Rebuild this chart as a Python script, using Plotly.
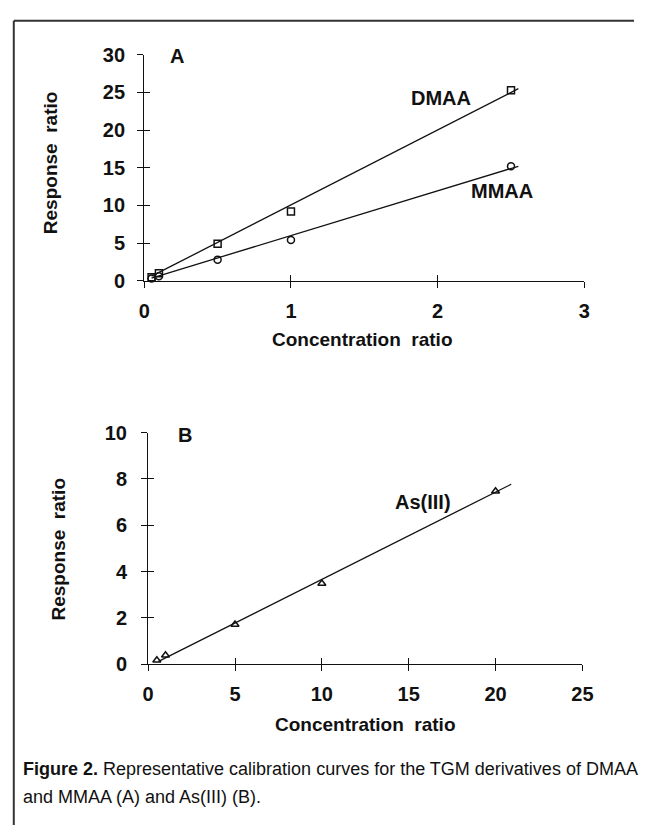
import plotly.graph_objects as go

W, H = 645, 836

# ---------- Data ----------
conc_A = [0.05, 0.1, 0.5, 1.0, 2.5]
dmaa_resp = [0.45, 1.0, 4.9, 9.2, 25.3]
mmaa_resp = [0.3, 0.6, 2.8, 5.4, 15.2]
dmaa_fit_x = [0.05, 2.55]
dmaa_fit_y = [0.6, 25.5]
mmaa_fit_x = [0.05, 2.55]
mmaa_fit_y = [0.35, 15.2]

conc_B = [0.5, 1.0, 5.0, 10.0, 20.0]
as3_resp = [0.18, 0.39, 1.72, 3.49, 7.47]
as3_fit_x = [0.6, 20.9]
as3_fit_y = [0.13, 7.77]

xticks_A = [0, 1, 2, 3]
yticks_A = [0, 5, 10, 15, 20, 25, 30]
xticks_B = [0, 5, 10, 15, 20, 25]
yticks_B = [0, 2, 4, 6, 8, 10]

# ---------- helpers ----------
def px_x(p):
    return p / W

def px_y(p):
    return 1 - p / H

FONT = "Liberation Sans"
BLACK = "#111111"

fig = go.Figure()

mk_line = dict(color=BLACK, width=1.5)

# Panel A
fig.add_trace(go.Scatter(x=dmaa_fit_x, y=dmaa_fit_y, mode="lines",
                         line=dict(color=BLACK, width=1.3), xaxis="x", yaxis="y",
                         cliponaxis=False, showlegend=False, hoverinfo="skip"))
fig.add_trace(go.Scatter(x=mmaa_fit_x, y=mmaa_fit_y, mode="lines",
                         line=dict(color=BLACK, width=1.3), xaxis="x", yaxis="y",
                         cliponaxis=False, showlegend=False, hoverinfo="skip"))
fig.add_trace(go.Scatter(x=conc_A, y=dmaa_resp, mode="markers", name="DMAA",
                         marker=dict(symbol="square-open", size=7, color=BLACK, line=mk_line),
                         xaxis="x", yaxis="y", cliponaxis=False, showlegend=False))
fig.add_trace(go.Scatter(x=conc_A, y=mmaa_resp, mode="markers", name="MMAA",
                         marker=dict(symbol="circle-open", size=7, color=BLACK, line=mk_line),
                         xaxis="x", yaxis="y", cliponaxis=False, showlegend=False))

# Panel B
fig.add_trace(go.Scatter(x=as3_fit_x, y=as3_fit_y, mode="lines",
                         line=dict(color=BLACK, width=1.3), xaxis="x2", yaxis="y2",
                         cliponaxis=False, showlegend=False, hoverinfo="skip"))
fig.add_trace(go.Scatter(x=conc_B, y=as3_resp, mode="markers", name="As(III)",
                         marker=dict(symbol="triangle-up-open", size=7, color=BLACK, line=mk_line),
                         xaxis="x2", yaxis="y2", cliponaxis=False, showlegend=False))

# invisible traces for the overlay axes (inner half of crossing ticks)
fig.add_trace(go.Scatter(x=[0], y=[0], mode="markers", marker=dict(opacity=0),
                         xaxis="x3", yaxis="y3", showlegend=False, hoverinfo="skip"))
fig.add_trace(go.Scatter(x=[0], y=[0], mode="markers", marker=dict(opacity=0),
                         xaxis="x4", yaxis="y4", showlegend=False, hoverinfo="skip"))

tickfont = dict(family=FONT, size=20, color=BLACK, weight="bold")

def main_axis(domain, rng, ticks, anchor, standoff):
    return dict(domain=domain, range=rng, tickvals=ticks, ticktext=[str(t) for t in ticks],
                anchor=anchor, ticks="outside", ticklen=6, tickwidth=1.2, tickcolor=BLACK,
                showline=True, linecolor=BLACK, linewidth=1.3, showgrid=False, zeroline=False,
                tickfont=tickfont, ticklabelstandoff=standoff, fixedrange=True)

def overlay_axis(over, rng, ticks, anchor):
    return dict(overlaying=over, range=rng, tickvals=ticks, anchor=anchor,
                ticks="inside", ticklen=6, tickwidth=1.2, tickcolor=BLACK,
                showticklabels=False, showline=False, showgrid=False, zeroline=False,
                fixedrange=True)

xdomA = [px_x(142), px_x(594)]
ydomA = [px_y(277), px_y(45)]
xdomB = [px_x(146), px_x(592)]
ydomB = [px_y(671), px_y(433)]

fig.update_layout(
    width=W, height=H,
    margin=dict(l=0, r=0, t=0, b=0),
    paper_bgcolor="white", plot_bgcolor="rgba(0,0,0,0)",
    xaxis=main_axis(xdomA, [0, 3], xticks_A, "y", 6),
    yaxis=main_axis(ydomA, [0, 30], yticks_A, "x", 8),
    xaxis2=main_axis(xdomB, [0, 25], xticks_B, "y2", 6),
    yaxis2=main_axis(ydomB, [0, 10], yticks_B, "x2", 10),
    xaxis3=overlay_axis("x", [0, 3], xticks_A, "y3"),
    yaxis3=overlay_axis("y", [0, 30], yticks_A, "x3"),
    xaxis4=overlay_axis("x2", [0, 25], xticks_B, "y4"),
    yaxis4=overlay_axis("y2", [0, 10], yticks_B, "x4"),
    showlegend=False,
)

title_font = dict(family=FONT, size=19, color=BLACK, weight="bold")
label_font = dict(family=FONT, size=20, color=BLACK, weight="bold")

annots = [
    # axis titles
    dict(text="Response&nbsp; ratio", x=px_x(46.5), y=px_y(156), textangle=-90, font=title_font),
    dict(text="Concentration&nbsp; ratio", x=px_x(366), y=px_y(337), font=title_font),
    dict(text="Response&nbsp; ratio", x=px_x(53.5), y=px_y(553), textangle=-90, font=title_font),
    dict(text="Concentration&nbsp; ratio", x=px_x(369), y=px_y(733), font=title_font),
    # panel letters
    dict(text="A", x=px_x(176), y=px_y(46), font=label_font),
    dict(text="B", x=px_x(184), y=px_y(435), font=label_font),
]
for a in annots:
    a.update(xref="paper", yref="paper", showarrow=False, xanchor="center", yanchor="middle")
    fig.add_annotation(**a)

# series labels in data coordinates
fig.add_annotation(text="DMAA", x=2.02, y=24.2, xref="x", yref="y", showarrow=False, font=label_font)
fig.add_annotation(text="MMAA", x=2.44, y=11.9, xref="x", yref="y", showarrow=False, font=label_font)
fig.add_annotation(text="As(III)", x=15.8, y=7.0, xref="x2", yref="y2", showarrow=False, font=label_font)

# caption
cap_font = dict(family=FONT, size=18, color=BLACK)
fig.add_annotation(text="<b>Figure 2.</b> Representative calibration curves for the TGM derivatives of DMAA",
                   x=px_x(15), y=px_y(778), xref="paper", yref="paper", xanchor="left",
                   yanchor="middle", showarrow=False, font=cap_font)
fig.add_annotation(text="and MMAA (A) and As(III) (B).",
                   x=px_x(15), y=px_y(807), xref="paper", yref="paper", xanchor="left",
                   yanchor="middle", showarrow=False, font=cap_font)

# frame edges (left and top)
fig.add_shape(type="line", xref="paper", yref="paper",
              x0=px_x(8), x1=px_x(8), y0=0, y1=px_y(10),
              line=dict(color="#333333", width=2), layer="above")
fig.add_shape(type="line", xref="paper", yref="paper",
              x0=px_x(8), x1=1, y0=px_y(10), y1=px_y(10),
              line=dict(color="#333333", width=2), layer="above")

fig.write_html("out.html")
